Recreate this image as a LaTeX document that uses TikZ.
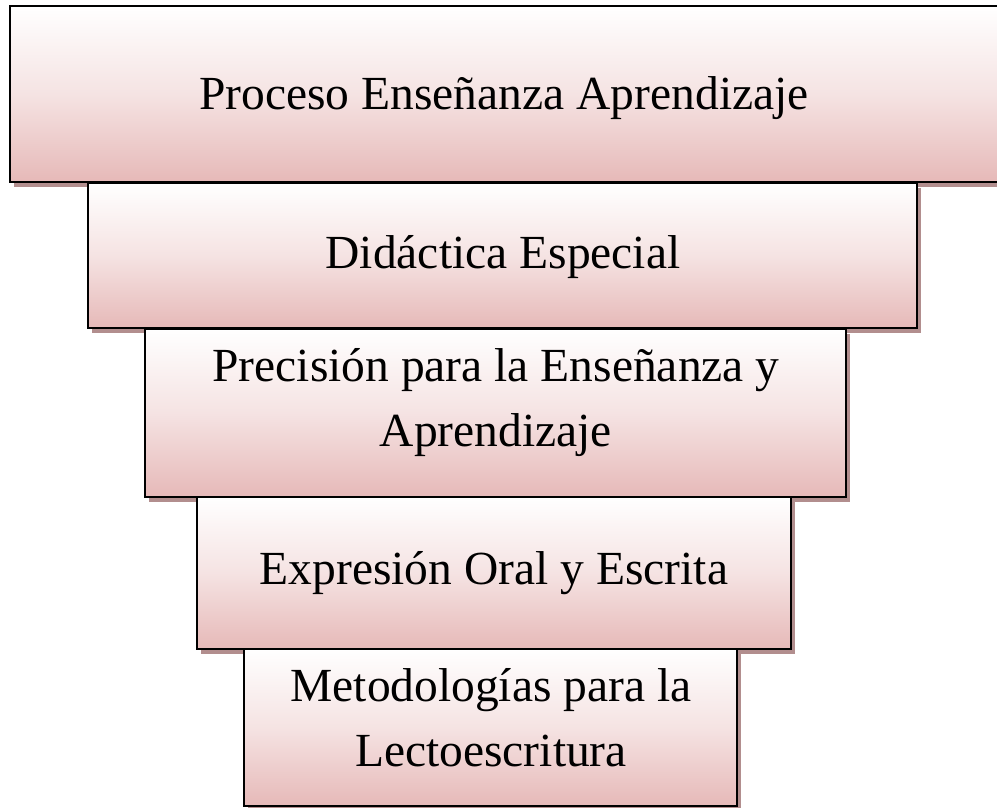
\documentclass[tikz,border=0pt]{standalone}
\usepackage{fontspec}
\setmainfont{Liberation Serif}
\definecolor{boxpink}{RGB}{230,185,184}
\definecolor{shadowc}{RGB}{178,142,142}
\begin{document}
\begin{tikzpicture}[x=1pt,y=1pt,
  tier/.style={draw=black,line width=2.2pt,top color=white,bottom color=boxpink,middle color=boxpink!40!white},
  shad/.style={fill=shadowc,draw=none},
  lbl/.style={font=\fontsize{47.5}{65}\selectfont,text=black,inner sep=0pt,anchor=base}]
\useasboundingbox (0,0) rectangle (997,808);
\begin{scope}
\clip (0,0) rectangle (997,808);
% box 1
\fill[shad] (14,621) rectangle (1010,797);
\path[tier] (10,626) rectangle (1003,802);
% box 2
\fill[shad] (92,475) rectangle (921,620);
\path[tier] (88,480) rectangle (917,625);
% box 3
\fill[shad] (149,306) rectangle (850,474);
\path[tier] (145,311) rectangle (846,479);
% box 4
\fill[shad] (201,154) rectangle (795,306);
\path[tier] (197,159) rectangle (791,311);
% box 5
\fill[shad] (248,-3) rectangle (741,154);
\path[tier,line width=1.8pt] (244,2) rectangle (737,159);
\end{scope}
\node[lbl] (t1) at (504,698) {Proceso Enseñanza Aprendizaje};
\node[lbl] (t2) at (503,539) {Didáctica Especial};
\node[lbl] (t3a) at (496,426) {Precisión para la Enseñanza y};
\node[lbl] (t3b) at (496,361) {Aprendizaje};
\node[lbl] (t4) at (494,223) {Expresión Oral y Escrita};
\node[lbl] (t5a) at (491,106) {Metodologías para la};
\node[lbl] (t5b) at (491,41) {Lectoescritura};
\end{tikzpicture}
\end{document}
